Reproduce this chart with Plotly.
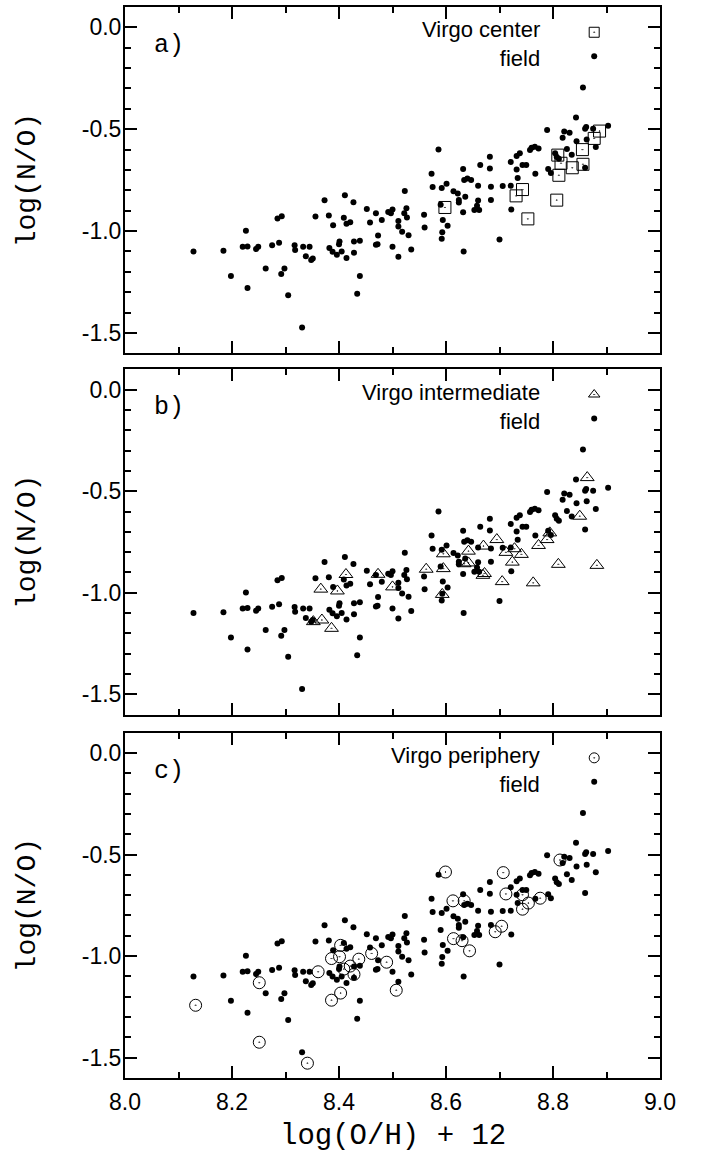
import plotly.graph_objects as go

# ---------------- data ----------------
field_x = [8.128, 8.184, 8.198, 8.220, 8.226, 8.229, 8.229, 8.245, 8.249, 8.263,
           8.275, 8.285, 8.288, 8.293, 8.292, 8.298, 8.305, 8.317, 8.318, 8.331,
           8.333, 8.338, 8.345, 8.348, 8.351, 8.356, 8.373, 8.381, 8.382, 8.388,
           8.389, 8.396, 8.400, 8.401, 8.405, 8.409, 8.411, 8.414, 8.414, 8.421,
           8.427, 8.428, 8.428, 8.434, 8.439, 8.439, 8.452, 8.458, 8.469, 8.469,
           8.473, 8.472, 8.480, 8.492, 8.497, 8.500, 8.500, 8.511, 8.511, 8.511,
           8.518, 8.522, 8.523, 8.526, 8.527, 8.530, 8.535, 8.559, 8.560, 8.573,
           8.575, 8.586, 8.590, 8.592, 8.593, 8.592, 8.594, 8.601, 8.603, 8.614,
           8.622, 8.624, 8.624, 8.632, 8.634, 8.632, 8.633, 8.636, 8.640, 8.647,
           8.653, 8.658, 8.660, 8.660, 8.662, 8.664, 8.682, 8.682, 8.684, 8.684,
           8.700,
           8.856, 8.843, 8.789, 8.821, 8.831, 8.818, 8.860, 8.862, 8.875, 8.903,
           8.863, 8.844, 8.880, 8.826, 8.835, 8.804, 8.807, 8.811, 8.860, 8.791,
           8.796, 8.757, 8.760, 8.766, 8.773, 8.738, 8.732, 8.721, 8.743, 8.750,
           8.732, 8.767, 8.734, 8.706, 8.721, 8.722]
field_y = [-1.100, -1.096, -1.220, -1.077, -0.998, -1.075, -1.279, -1.088, -1.077, -1.183,
           -1.069, -0.938, -1.057, -0.927, -1.211, -1.183, -1.315, -1.070, -1.093, -1.473,
           -1.077, -1.124, -1.077, -1.142, -1.134, -0.928, -0.848, -0.923, -1.083, -1.101,
           -0.971, -1.116, -1.064, -1.051, -1.100, -0.935, -0.824, -1.132, -0.964, -0.956,
           -0.858, -1.051, -1.106, -1.308, -1.047, -1.220, -0.892, -0.958, -0.912, -1.067,
           -1.021, -1.064, -0.946, -0.906, -0.912, -0.894, -1.077, -0.950, -0.977, -1.126,
           -1.003, -0.912, -0.803, -0.888, -0.933, -1.020, -1.090, -0.920, -0.982, -0.718,
           -0.783, -0.600, -0.871, -0.788, -1.005, -1.038, -0.945, -0.767, -0.974, -0.804,
           -0.816, -0.847, -0.860, -0.695, -0.749, -0.907, -1.100, -0.831, -0.742, -0.749,
           -0.896, -0.876, -0.777, -0.850, -0.896, -0.675, -0.693, -0.635, -0.847, -0.782,
           -1.041,
           -0.295, -0.442, -0.504, -0.511, -0.517, -0.542, -0.498, -0.489, -0.498, -0.483,
           -0.550, -0.559, -0.587, -0.597, -0.625, -0.618, -0.636, -0.645, -0.689, -0.695,
           -0.715, -0.602, -0.591, -0.586, -0.594, -0.618, -0.631, -0.661, -0.675, -0.675,
           -0.698, -0.718, -0.739, -0.778, -0.777, -0.894]

center_x = [8.598, 8.731, 8.743, 8.753, 8.807, 8.811, 8.809, 8.815, 8.836, 8.856,
            8.855, 8.877, 8.887]
center_y = [-0.884, -0.827, -0.796, -0.940, -0.848, -0.726, -0.627, -0.667, -0.689, -0.672,
            -0.600, -0.545, -0.509]

inter_x = [8.352, 8.368, 8.366, 8.386, 8.397, 8.413, 8.473, 8.500, 8.563, 8.595,
           8.595, 8.593, 8.634, 8.642, 8.642, 8.669, 8.672, 8.670, 8.695, 8.705,
           8.712, 8.724, 8.728, 8.741, 8.763, 8.773, 8.789, 8.794, 8.810, 8.850,
           8.864, 8.882]
inter_y = [-1.142, -1.134, -0.982, -1.175, -0.991, -0.910, -0.909, -0.971, -0.884, -0.808,
           -0.881, -1.008, -0.857, -0.795, -0.853, -0.914, -0.905, -0.770, -0.738, -0.945,
           -0.801, -0.849, -0.783, -0.811, -0.951, -0.767, -0.738, -0.705, -0.860, -0.623,
           -0.433, -0.865]

peri_x = [8.132, 8.251, 8.251, 8.341, 8.361, 8.386, 8.386, 8.401, 8.403, 8.403,
          8.409, 8.421, 8.428, 8.437, 8.461, 8.489, 8.507, 8.599, 8.613, 8.614,
          8.630, 8.634, 8.644, 8.692, 8.704, 8.707, 8.712, 8.743, 8.754, 8.743,
          8.776, 8.813]
peri_y = [-1.242, -1.131, -1.424, -1.527, -1.077, -1.012, -1.217, -1.003, -0.947, -1.182,
          -1.064, -1.049, -1.090, -1.015, -0.987, -1.030, -1.168, -0.586, -0.728, -0.914,
          -0.924, -0.728, -0.974, -0.880, -0.853, -0.589, -0.694, -0.698, -0.739, -0.769,
          -0.715, -0.527]

panel_labels = ["a)", "b)", "c)"]
virgo_names = ["Virgo center", "Virgo intermediate", "Virgo periphery"]
field_name = "field"
x_ticks = [8.0, 8.2, 8.4, 8.6, 8.8, 9.0]
x_ticklabels = ["8.0", "8.2", "8.4", "8.6", "8.8", "9.0"]
y_ticks = [0.0, -0.5, -1.0, -1.5]
y_ticklabels = ["0.0", "-0.5", "-1.0", "-1.5"]
x_title = "log(O/H) + 12"
y_title = "log(N/O)"

assert len(field_x) == len(field_y)
assert len(center_x) == len(center_y)
assert len(inter_x) == len(inter_y)
assert len(peri_x) == len(peri_y)

# ---------------- layout helpers ----------------
W, H = 702, 1155
ML, MR, MT, MB = 125, 42, 5, 77
plot_h = H - MT - MB
# panel pixel boxes (top, bottom)
boxes = [(5, 352), (368, 714), (732, 1078)]
domains = [[(H - MB - b) / plot_h, (H - MB - t) / plot_h] for t, b in boxes]

virgo_sets = [(center_x, center_y, "square-open-dot", 12),
              (inter_x, inter_y, "triangle-up-open-dot", 12),
              (peri_x, peri_y, "circle-open-dot", 12)]
legend_sym_size = [10, 10, 10]
key_x = 8.877
key_y = [-0.024, -0.142]
text_x = 8.779

fig = go.Figure()
tick_font = dict(family="Liberation Sans, Arial", size=23, color="black")
mono = "Liberation Mono, Courier New, monospace"
sans = "Liberation Sans, Arial"

for i in range(3):
    sfx = "" if i == 0 else str(i + 1)
    xa, ya = "x" + sfx, "y" + sfx
    vx, vy, sym, sz = virgo_sets[i]
    fig.add_trace(go.Scatter(x=field_x, y=field_y, mode="markers", xaxis=xa, yaxis=ya,
                             marker=dict(symbol="circle", size=6, color="black",
                                         line=dict(width=0)),
                             showlegend=False, hoverinfo="skip"))
    fig.add_trace(go.Scatter(x=vx, y=vy, mode="markers", xaxis=xa, yaxis=ya,
                             marker=dict(symbol=sym, size=sz, color="black",
                                         line=dict(width=1, color="black")),
                             showlegend=False, hoverinfo="skip"))
    # legend keys
    fig.add_trace(go.Scatter(x=[key_x], y=[key_y[0]], mode="markers", xaxis=xa, yaxis=ya,
                             marker=dict(symbol=sym, size=legend_sym_size[i], color="black",
                                         line=dict(width=1, color="black")),
                             showlegend=False, hoverinfo="skip"))
    fig.add_trace(go.Scatter(x=[key_x], y=[key_y[1]], mode="markers", xaxis=xa, yaxis=ya,
                             marker=dict(symbol="circle", size=6, color="black"),
                             showlegend=False, hoverinfo="skip"))

    xaxis = dict(domain=[0, 1], range=[8.0, 9.0], anchor=ya,
                 tickmode="array", tickvals=x_ticks, ticktext=x_ticklabels,
                 showticklabels=(i == 2), tickfont=tick_font,
                 ticks="inside", ticklen=12, tickwidth=1.5, tickcolor="black",
                 minor=dict(tickmode="linear", tick0=8.0, dtick=0.1, ticks="inside",
                            ticklen=6, tickwidth=1.5, tickcolor="black", showgrid=False),
                 showline=True, linecolor="black", linewidth=2, mirror="allticks",
                 showgrid=False, zeroline=False, ticklabelstandoff=2)
    yaxis = dict(domain=domains[i], range=[-1.6, 0.1], anchor=xa,
                 tickmode="array", tickvals=y_ticks, ticktext=y_ticklabels,
                 tickfont=tick_font,
                 ticks="inside", ticklen=12, tickwidth=1.5, tickcolor="black",
                 minor=dict(tickmode="linear", tick0=0.0, dtick=0.1, ticks="inside",
                            ticklen=6, tickwidth=1.5, tickcolor="black", showgrid=False),
                 showline=True, linecolor="black", linewidth=2, mirror="allticks",
                 showgrid=False, zeroline=False, ticklabelstandoff=-3)
    fig.layout["xaxis" + sfx] = xaxis
    fig.layout["yaxis" + sfx] = yaxis

    # panel label
    fig.add_annotation(x=8.05, y=-0.09, xref=xa, yref=ya, text=panel_labels[i],
                       showarrow=False, xanchor="left", yanchor="middle",
                       font=dict(family=mono, size=25, color="black"))
    # legend text (two right-aligned lines)
    fig.add_annotation(x=text_x, y=(key_y[0] + key_y[1]) / 2, xref=xa, yref=ya,
                       text=virgo_names[i] + "<br>" + field_name, align="right",
                       showarrow=False, xanchor="right", yanchor="middle",
                       font=dict(family=sans, size=22, color="black"))
    # y title
    fig.add_annotation(x=-0.183, y=0.5, xref="paper", yref=ya + " domain", text=y_title,
                       showarrow=False, textangle=-90, xanchor="center", yanchor="middle",
                       font=dict(family=mono, size=28, color="black"))

fig.add_annotation(x=0.5, y=(1078 - 1155) / plot_h, xref="paper", yref="paper", text=x_title,
                   showarrow=False, xanchor="center", yanchor="bottom",
                   font=dict(family=mono, size=29, color="black"))

fig.update_layout(width=W, height=H, margin=dict(l=ML, r=MR, t=MT, b=MB),
                  paper_bgcolor="white", plot_bgcolor="white", showlegend=False)

fig.write_html("out.html")
